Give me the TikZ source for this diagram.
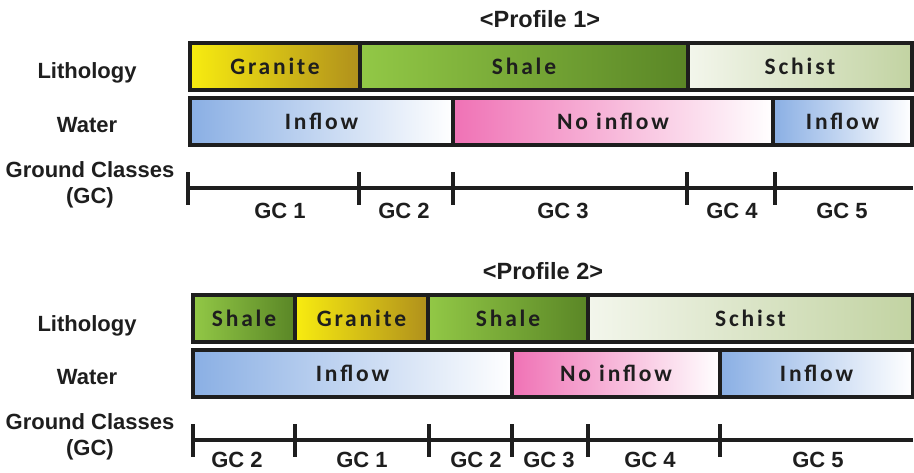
\documentclass[tikz,border=0pt]{standalone}
\usepackage{fontspec}
\setmainfont{Liberation Sans}
\newfontfamily\barfont[LetterSpace=12]{Carlito}
\usepackage{tikz}
\usetikzlibrary{positioning}
\definecolor{Ink}{HTML}{1E1E1E}
\definecolor{GraniteL}{HTML}{F8EC10}
\definecolor{GraniteR}{HTML}{B0901C}
\definecolor{ShaleL}{HTML}{92C846}
\definecolor{ShaleR}{HTML}{5A8626}
\definecolor{SchistL}{HTML}{F3F6EC}
\definecolor{SchistR}{HTML}{C2D3A2}
\definecolor{InflowL}{HTML}{8AAFE4}
\definecolor{NoInflowL}{HTML}{EE62AD}

\begin{document}
\begin{tikzpicture}[x=1pt,y=-1pt,
    seg/.style={draw=Ink,line width=3.4pt,anchor=north west,inner sep=0pt,outer sep=0pt,
      minimum height=47pt,text depth=-4pt,text=Ink,font=\barfont\bfseries\fontsize{23.5}{26}\selectfont},
    granite/.style={seg,left color=GraniteL,middle color=GraniteL!94!GraniteR,right color=GraniteR},
    shale/.style={seg,left color=ShaleL,middle color=ShaleL!88!ShaleR,right color=ShaleR},
    schist/.style={seg,left color=SchistL,right color=SchistR},
    inflow/.style={seg,left color=InflowL,middle color=InflowL!30!white,right color=white},
    noinflow/.style={seg,left color=NoInflowL!90!white,middle color=NoInflowL,right color=white},
    rowlabel/.style={text=Ink,align=center,font=\bfseries\fontsize{22}{26}\selectfont},
    gclabel/.style={text=Ink,inner sep=1pt,font=\bfseries\fontsize{22}{26}\selectfont},
    titlelabel/.style={text=Ink,font=\bfseries\fontsize{23.5}{26}\selectfont},
    gcline/.style={draw=Ink,line width=4.4pt},
    gctick/.style={draw=Ink,line width=3.8pt}]
    \useasboundingbox (0,0) rectangle (914,472);

    % Profile 1
    \node[titlelabel] (title1) at (540,19) {<Profile 1>};
    \node[rowlabel] (lith1) at (87,73) {Lithology};
    \node[rowlabel] (water1) at (87,125) {Water};
    \node[rowlabel] (gc1) at (90,185) {Ground Classes\\(GC)};

    \node[granite,minimum width=170pt] (l1a) at (190,43) {Granite};
    \node[shale,minimum width=328pt] (l1b) at (360,43) {Shale};
    \node[schist,minimum width=224pt] (l1c) at (688,43) {Schist};

    \node[inflow,minimum width=263pt] (w1a) at (190,98) {Inflow};
    \node[noinflow,minimum width=320pt] (w1b) at (453,98) {No inflow};
    \node[inflow,minimum width=139pt] (w1c) at (773,98) {Inflow};

    \coordinate (s1a) at (188,188);
    \coordinate (s1b) at (913,188);
    \draw[gcline] (s1a) -- (s1b);
    \foreach \x in {188,359,453,687,775}
      \draw[gctick] (\x,172) -- (\x,205);
    \node[gclabel] (g1a) at (280,211) {GC 1};
    \node[gclabel] (g1b) at (404,211) {GC 2};
    \node[gclabel] (g1c) at (563,211) {GC 3};
    \node[gclabel] (g1d) at (732,211) {GC 4};
    \node[gclabel] (g1e) at (842,211) {GC 5};

    % Profile 2
    \node[titlelabel] (title2) at (543,271) {<Profile 2>};
    \node[rowlabel] (lith2) at (87,326) {Lithology};
    \node[rowlabel] (water2) at (87,377) {Water};
    \node[rowlabel] (gc2) at (90,437) {Ground Classes\\(GC)};

    \node[shale,minimum width=102pt] (l2a) at (193,295) {Shale};
    \node[granite,minimum width=133pt] (l2b) at (295,295) {Granite};
    \node[shale,minimum width=160pt] (l2c) at (428,295) {Shale};
    \node[schist,minimum width=325pt] (l2d) at (588,295) {Schist};

    \node[inflow,minimum width=319pt] (w2a) at (193,350) {Inflow};
    \node[noinflow,minimum width=208pt] (w2b) at (512,350) {No inflow};
    \node[inflow,minimum width=193pt] (w2c) at (720,350) {Inflow};

    \coordinate (s2a) at (193,440);
    \coordinate (s2b) at (913,440);
    \draw[gcline] (s2a) -- (s2b);
    \foreach \x in {193,295,429,512,588,720}
      \draw[gctick] (\x,424) -- (\x,457);
    \node[gclabel] (g2a) at (237,460) {GC 2};
    \node[gclabel] (g2b) at (362,460) {GC 1};
    \node[gclabel] (g2c) at (476,460) {GC 2};
    \node[gclabel] (g2d) at (549,460) {GC 3};
    \node[gclabel] (g2e) at (650,460) {GC 4};
    \node[gclabel] (g2f) at (818,460) {GC 5};
\end{tikzpicture}
\end{document}
